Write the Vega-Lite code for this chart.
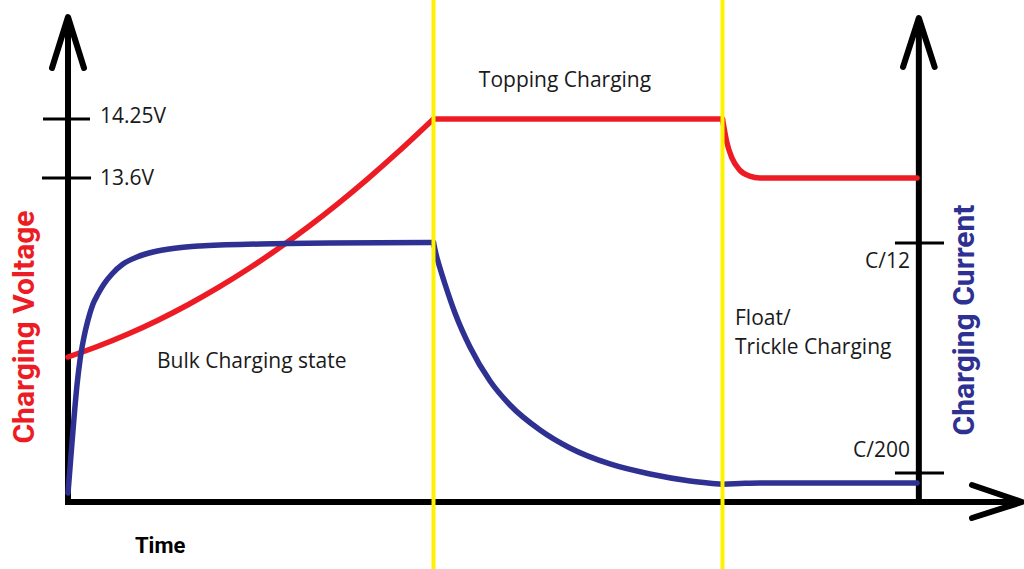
{
  "$schema": "https://vega.github.io/schema/vega-lite/v6.json",
  "width": 1024,
  "height": 569,
  "autosize": {"type": "none"},
  "padding": 0,
  "background": "white",
  "config": {"view": {"stroke": null}},
  "encoding": {
    "x": {"field": "t", "type": "quantitative", "scale": {"domain": [-8, 112.4706], "nice": false, "zero": false}, "axis": null},
    "y": {"field": "v", "type": "quantitative", "scale": {"domain": [-13.9583, 104.5833], "nice": false, "zero": false}, "axis": null}
  },
  "layer": [
    {
      "data": {"values": [
        {"t": 0, "v": 0, "t2": 0, "v2": 101.0},
        {"t": 100.1, "v": 0, "t2": 100.1, "v2": 100.8},
        {"t": -0.35, "v": 0, "t2": 112.2, "v2": 0}
      ]},
      "mark": {"type": "rule", "color": "black", "strokeWidth": 6, "strokeCap": "butt"},
      "encoding": {"x2": {"field": "t2"}, "y2": {"field": "v2"}}
    },
    {
      "data": {"values": [
        {"part": "left", "i": 1, "t": -1.882, "v": 90.42},
        {"part": "left", "i": 2, "t": 0, "v": 101.04},
        {"part": "left", "i": 3, "t": 1.882, "v": 90.42},
        {"part": "right", "i": 1, "t": 98.24, "v": 90.625},
        {"part": "right", "i": 2, "t": 100.1, "v": 100.83},
        {"part": "right", "i": 3, "t": 101.96, "v": 90.625},
        {"part": "bottom", "i": 1, "t": 106.35, "v": 3.54},
        {"part": "bottom", "i": 2, "t": 112.24, "v": 0},
        {"part": "bottom", "i": 3, "t": 106.35, "v": -3.33}
      ]},
      "mark": {"type": "line", "color": "black", "strokeWidth": 6, "strokeCap": "round", "strokeJoin": "round"},
      "encoding": {"detail": {"field": "part"}, "order": {"field": "i"}}
    },
    {
      "data": {"values": [
        {"t": -2.94, "t2": 2.59, "v": 79.79},
        {"t": -3.06, "t2": 2.71, "v": 67.5},
        {"t": 97.29, "t2": 103.06, "v": 53.96},
        {"t": 97.29, "t2": 103.06, "v": 6.04}
      ]},
      "mark": {"type": "rule", "color": "black", "strokeWidth": 3},
      "encoding": {"x2": {"field": "t2"}}
    },
    {
      "data": {"values": [
        {"series": "Voltage", "seg": "R1", "t": 0, "v": 30.21},
        {"series": "Voltage", "seg": "R1", "t": 3.529, "v": 32.44},
        {"series": "Voltage", "seg": "R1", "t": 7.059, "v": 35.0},
        {"series": "Voltage", "seg": "R1", "t": 10.588, "v": 37.88},
        {"series": "Voltage", "seg": "R1", "t": 14.118, "v": 41.1},
        {"series": "Voltage", "seg": "R1", "t": 17.647, "v": 44.65},
        {"series": "Voltage", "seg": "R1", "t": 21.176, "v": 48.54},
        {"series": "Voltage", "seg": "R1", "t": 24.706, "v": 52.75},
        {"series": "Voltage", "seg": "R1", "t": 28.235, "v": 57.29},
        {"series": "Voltage", "seg": "R1", "t": 31.765, "v": 62.17},
        {"series": "Voltage", "seg": "R1", "t": 35.294, "v": 67.38},
        {"series": "Voltage", "seg": "R1", "t": 38.824, "v": 72.9},
        {"series": "Voltage", "seg": "R1", "t": 43, "v": 79.8},
        {"series": "Voltage", "seg": "R2", "t": 43, "v": 79.8},
        {"series": "Voltage", "seg": "R2", "t": 77, "v": 79.8},
        {"series": "Voltage", "seg": "R3", "t": 77, "v": 79.8},
        {"series": "Voltage", "seg": "R3", "t": 77.5, "v": 75.0},
        {"series": "Voltage", "seg": "R3", "t": 78.1, "v": 71.7},
        {"series": "Voltage", "seg": "R3", "t": 79.0, "v": 69.2},
        {"series": "Voltage", "seg": "R3", "t": 80.2, "v": 67.9},
        {"series": "Voltage", "seg": "R3", "t": 81.4, "v": 67.5},
        {"series": "Voltage", "seg": "R3", "t": 83.0, "v": 67.5},
        {"series": "Voltage", "seg": "R3", "t": 99.88, "v": 67.5},
        {"series": "Current", "seg": "B1", "t": 0, "v": 1.875},
        {"series": "Current", "seg": "B1", "t": 0.353, "v": 9.79},
        {"series": "Current", "seg": "B1", "t": 0.706, "v": 17.5},
        {"series": "Current", "seg": "B1", "t": 1.059, "v": 24.38},
        {"series": "Current", "seg": "B1", "t": 1.412, "v": 29.58},
        {"series": "Current", "seg": "B1", "t": 1.882, "v": 34.38},
        {"series": "Current", "seg": "B1", "t": 2.353, "v": 37.92},
        {"series": "Current", "seg": "B1", "t": 2.941, "v": 41.25},
        {"series": "Current", "seg": "B1", "t": 3.529, "v": 43.33},
        {"series": "Current", "seg": "B1", "t": 4.235, "v": 45.42},
        {"series": "Current", "seg": "B1", "t": 5.176, "v": 47.5},
        {"series": "Current", "seg": "B1", "t": 6.471, "v": 49.58},
        {"series": "Current", "seg": "B1", "t": 8.118, "v": 51.04},
        {"series": "Current", "seg": "B1", "t": 10.0, "v": 52.08},
        {"series": "Current", "seg": "B1", "t": 12.82, "v": 52.92},
        {"series": "Current", "seg": "B1", "t": 15.53, "v": 53.33},
        {"series": "Current", "seg": "B1", "t": 22.59, "v": 53.75},
        {"series": "Current", "seg": "B1", "t": 30.82, "v": 53.96},
        {"series": "Current", "seg": "B1", "t": 43, "v": 54.06},
        {"series": "Current", "seg": "B2", "t": 43, "v": 54.06},
        {"series": "Current", "seg": "B2", "t": 43.29, "v": 51.67},
        {"series": "Current", "seg": "B2", "t": 43.76, "v": 48.75},
        {"series": "Current", "seg": "B2", "t": 44.35, "v": 45.42},
        {"series": "Current", "seg": "B2", "t": 45.53, "v": 39.38},
        {"series": "Current", "seg": "B2", "t": 47.29, "v": 32.29},
        {"series": "Current", "seg": "B2", "t": 49.65, "v": 25.21},
        {"series": "Current", "seg": "B2", "t": 52.0, "v": 20.21},
        {"series": "Current", "seg": "B2", "t": 55.53, "v": 15.0},
        {"series": "Current", "seg": "B2", "t": 59.06, "v": 11.25},
        {"series": "Current", "seg": "B2", "t": 63.76, "v": 7.92},
        {"series": "Current", "seg": "B2", "t": 68.47, "v": 5.83},
        {"series": "Current", "seg": "B2", "t": 73.18, "v": 4.38},
        {"series": "Current", "seg": "B2", "t": 77, "v": 3.69},
        {"series": "Current", "seg": "B3", "t": 77, "v": 3.69},
        {"series": "Current", "seg": "B3", "t": 79.06, "v": 3.85},
        {"series": "Current", "seg": "B3", "t": 81.41, "v": 3.98},
        {"series": "Current", "seg": "B3", "t": 99.88, "v": 3.98}
      ]},
      "mark": {"type": "line", "interpolate": "monotone", "strokeWidth": 5.5, "strokeCap": "round"},
      "encoding": {
        "color": {"field": "series", "type": "nominal", "scale": {"domain": ["Voltage", "Current"], "range": ["#ED1C24", "#2E3192"]}, "legend": null},
        "detail": {"field": "seg"}
      }
    },
    {
      "data": {"values": [
        {"label": "14.25V", "t": 3.76, "v": 78.96},
        {"label": "13.6V", "t": 3.76, "v": 66.04},
        {"label": "Bulk Charging state", "t": 10.47, "v": 27.92},
        {"label": "Float/", "t": 78.47, "v": 36.875},
        {"label": "Trickle Charging", "t": 78.47, "v": 30.83}
      ]},
      "mark": {"type": "text", "align": "left", "baseline": "alphabetic", "font": "Open Sans", "fontSize": 21, "color": "#1a1a1a"},
      "encoding": {"text": {"field": "label"}}
    },
    {
      "data": {"values": [
        {"label": "Topping Charging", "t": 58.47, "v": 86.46}
      ]},
      "mark": {"type": "text", "align": "center", "baseline": "alphabetic", "font": "Open Sans", "fontSize": 21, "color": "#1a1a1a"},
      "encoding": {"text": {"field": "label"}}
    },
    {
      "data": {"values": [
        {"label": "C/12", "t": 99.06, "v": 48.75},
        {"label": "C/200", "t": 99.06, "v": 9.375}
      ]},
      "mark": {"type": "text", "align": "right", "baseline": "alphabetic", "font": "Open Sans", "fontSize": 21, "color": "#1a1a1a"},
      "encoding": {"text": {"field": "label"}}
    },
    {
      "data": {"values": [
        {"label": "Time", "t": 7.88, "v": -10.625}
      ]},
      "mark": {"type": "text", "align": "left", "baseline": "alphabetic", "font": "Roboto", "fontWeight": "bold", "fontSize": 22, "color": "black"},
      "encoding": {"text": {"field": "label"}}
    },
    {
      "data": {"values": [
        {"label": "Charging Voltage", "t": -4.0, "v": 36.46}
      ]},
      "mark": {"type": "text", "align": "center", "baseline": "alphabetic", "angle": 270, "font": "Roboto", "fontWeight": "bold", "fontSize": 30, "color": "#ED1C24"},
      "encoding": {"text": {"field": "label"}}
    },
    {
      "data": {"values": [
        {"label": "Charging Current", "t": 106.6, "v": 37.92}
      ]},
      "mark": {"type": "text", "align": "center", "baseline": "alphabetic", "angle": 270, "font": "Roboto", "fontWeight": "bold", "fontSize": 30, "color": "#2E3192"},
      "encoding": {"text": {"field": "label"}}
    },
    {
      "data": {"values": [
        {"t": 43},
        {"t": 77}
      ]},
      "mark": {"type": "rule", "color": "#FFF200", "strokeWidth": 4},
      "encoding": {"y": null}
    }
  ]
}
